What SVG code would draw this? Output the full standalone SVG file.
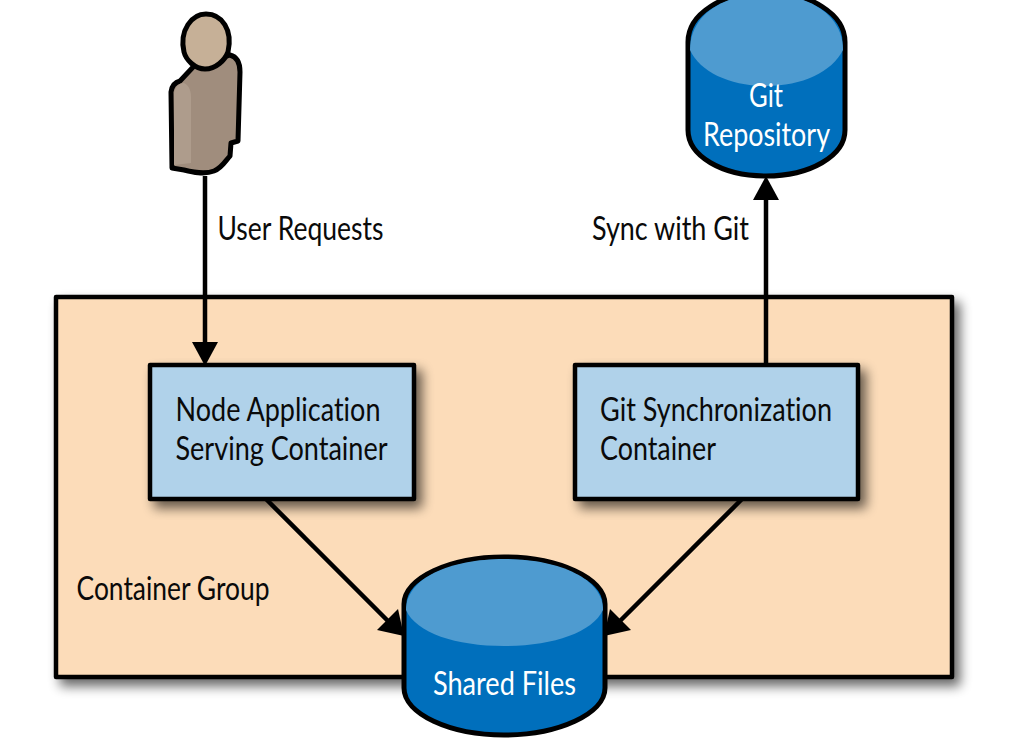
<svg xmlns="http://www.w3.org/2000/svg" width="1010" height="747" viewBox="0 0 1010 747">
<style>
text{font-family:"Lato","Open Sans","Liberation Sans",sans-serif;font-size:32.500px;fill:#0a0a0a;font-variant-ligatures:none;}
.w{fill:#fff;}
.box{stroke:#000;stroke-width:4.500;stroke-linejoin:round;}
.conn{stroke:#000;stroke-width:4.500;fill:none;}
.head{fill:#000;}
</style>
<defs>
<filter id="sh" x="-10%" y="-10%" width="125%" height="125%"><feGaussianBlur in="SourceAlpha" stdDeviation="6"/><feOffset dx="6" dy="7"/><feComponentTransfer><feFuncA type="linear" slope="0.6"/></feComponentTransfer><feMerge><feMergeNode/><feMergeNode in="SourceGraphic"/></feMerge></filter>
</defs>
<g id="container-group">
<rect x="56" y="297" width="896" height="380" class="box" fill="#fcdcb9" filter="url(#sh)"/>
<text x="76.500" y="600" textLength="193" lengthAdjust="spacingAndGlyphs">Container Group</text>
</g>
<g id="user">
<path d="M195 65L230 55C238 57 240 64 240 72L238 141L231 143L230 156C226 160 222 168 214 171C204 175 192 172 184 170L172 168L171 92C172 85 176 82 180 81Z" fill="#a08d7d" stroke="#000" stroke-width="5" stroke-linejoin="round"/>
<path d="M174 165L174 94C175 86 180 83 184 83C190 86 191 92 191 98L191 163Z" fill="#ae9c8c"/>
<path d="M184 52C179 30 192 14 206 14C222 14 233 30 228 52C225 60 216 69 205 69C195 69 186 60 184 52Z" fill="#c6b097" stroke="#000" stroke-width="5"/>
</g>
<g id="connectors">
<line class="conn" x1="205" y1="176" x2="205" y2="345"/>
<path class="head" d="M192 342H218L205 366Z"/>
<line class="conn" x1="766" y1="364" x2="766" y2="197"/>
<path class="head" d="M753 200H779L766 176Z"/>
<line class="conn" x1="266" y1="499" x2="388" y2="621"/>
<path class="head" d="M404 636L377 630L398 609Z"/>
<line class="conn" x1="742" y1="499" x2="620" y2="621"/>
<path class="head" d="M604 636L631 630L610 609Z"/>
<text x="217.500" y="240" textLength="166" lengthAdjust="spacingAndGlyphs">User Requests</text>
<text x="592" y="240" textLength="157" lengthAdjust="spacingAndGlyphs">Sync with Git</text>
</g>
<g id="node-app">
<rect x="150" y="365" width="264" height="134" class="box" fill="#b0d2ea" filter="url(#sh)"/>
<text x="175.500" y="421" textLength="205" lengthAdjust="spacingAndGlyphs">Node Application</text>
<text x="175.500" y="460" textLength="212" lengthAdjust="spacingAndGlyphs">Serving Container</text>
</g>
<g id="git-sync">
<rect x="575" y="365" width="283" height="134" class="box" fill="#b0d2ea" filter="url(#sh)"/>
<text x="600" y="421" textLength="232" lengthAdjust="spacingAndGlyphs">Git Synchronization</text>
<text x="600" y="460" textLength="116" lengthAdjust="spacingAndGlyphs">Container</text>
</g>
<g id="shared-files">
<path d="M404 604C404 578 450 557 504 557C558 557 605 578 605 604V688C605 714 558 735 504 735C450 735 404 714 404 688Z" fill="#006fbc" stroke="#000" stroke-width="5"/>
<path d="M406 610C406 578 450 559 504 559C558 559 603 578 603 610C592 633 552 646 504 646C456 646 416 633 406 610Z" fill="#4e9bd0"/>
<text class="w" x="433" y="695" textLength="143" lengthAdjust="spacingAndGlyphs">Shared Files</text>
</g>
<g id="git-repo">
<path d="M688 42C688 14 722 -8 766 -8C810 -8 845 14 845 42V130C845 156 810 176 766 176C722 176 688 156 688 130Z" fill="#006fbc" stroke="#000" stroke-width="5"/>
<path d="M690 50C690 14 724 -6 766 -6C808 -6 843 14 843 50C832 72 802 86 766 86C730 86 700 72 690 50Z" fill="#4e9bd0"/>
<text class="w" x="749" y="107" textLength="34" lengthAdjust="spacingAndGlyphs">Git</text>
<text class="w" x="703" y="146" textLength="127" lengthAdjust="spacingAndGlyphs">Repository</text>
</g>
</svg>
